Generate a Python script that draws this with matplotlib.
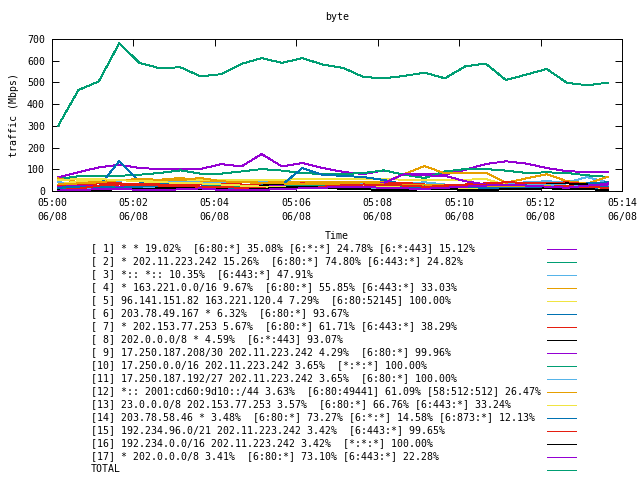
import pandas as pd
import matplotlib
matplotlib.use("Agg")
from matplotlib import pyplot as plt
import matplotlib.dates as mdates
from matplotlib.lines import Line2D

# samples every 30 s, 05:00:09 .. 05:13:39
times = pd.date_range("2024-06-08 05:00:09", periods=28, freq="30s")

# traffic in Mbps
s01 = [63, 86, 109, 121, 106, 101, 101, 101, 124, 113, 170, 113, 129, 106, 88, 78, 95, 75, 80, 75, 98, 124, 137, 126, 106, 91, 88, 88]
s02 = [55, 68, 70, 70, 75, 83, 95, 80, 80, 90, 101, 94, 83, 78, 78, 83, 95, 75, 60, 90, 101, 101, 94, 83, 86, 83, 72, 65]
s03 = [40, 35, 42, 48, 50, 45, 45, 44, 42, 45, 48, 45, 42, 40, 38, 35, 30, 35, 40, 30, 25, 30, 35, 40, 45, 40, 64, 40]
s04 = [58, 40, 45, 50, 55, 52, 60, 48, 45, 42, 50, 45, 40, 40, 42, 40, 40, 78, 115, 81, 84, 84, 38, 58, 77, 45, 35, 65]
s05 = [30, 45, 52, 52, 50, 50, 50, 50, 50, 52, 52, 52, 55, 57, 57, 57, 55, 52, 52, 52, 52, 55, 28, 30, 25, 20, 15, 15]
s06 = [10, 12, 20, 137, 43, 35, 30, 30, 25, 22, 30, 28, 106, 74, 70, 64, 51, 30, 25, 20, 22, 25, 20, 30, 25, 20, 35, 40]
s07 = [25, 30, 35, 35, 32, 30, 28, 30, 32, 30, 25, 30, 35, 30, 28, 30, 35, 38, 30, 28, 30, 35, 40, 38, 35, 40, 30, 25]
s08 = [10, 12, 15, 15, 18, 15, 12, 12, 15, 20, 25, 30, 22, 20, 18, 20, 25, 20, 18, 15, 18, 25, 22, 20, 30, 35, 30, 28]
s09 = [20, 22, 25, 18, 20, 15, 18, 20, 15, 18, 20, 22, 18, 20, 25, 22, 37, 78, 72, 70, 45, 30, 20, 25, 22, 15, 20, 35]
s10 = [15, 18, 20, 15, 12, 15, 18, 20, 22, 18, 15, 20, 25, 22, 20, 18, 15, 20, 22, 25, 20, 18, 22, 25, 20, 18, 25, 30]
s11 = [5, 8, 10, 12, 15, 12, 10, 15, 18, 15, 12, 10, 15, 18, 20, 15, 12, 10, 15, 18, 20, 15, 20, 25, 30, 25, 20, 25]
s12 = [30, 35, 40, 50, 55, 52, 50, 60, 45, 40, 38, 35, 30, 32, 35, 40, 30, 28, 30, 25, 20, 22, 18, 20, 22, 15, 10, 12]
s13 = [50, 55, 55, 50, 45, 40, 38, 35, 30, 25, 20, 18, 15, 20, 25, 28, 20, 15, 10, 12, 15, 10, 8, 10, 12, 15, 10, 8]
s14 = [15, 20, 18, 15, 20, 25, 20, 18, 15, 12, 10, 15, 18, 20, 22, 18, 15, 12, 15, 20, 18, 15, 12, 15, 20, 15, 12, 20]
s15 = [5, 10, 25, 30, 28, 25, 22, 20, 18, 15, 12, 10, 15, 20, 25, 30, 28, 25, 20, 22, 25, 28, 30, 25, 20, 22, 18, 15]
s16 = [3, 5, 5, 8, 10, 12, 15, 10, 8, 5, 10, 15, 20, 15, 10, 8, 5, 5, 8, 10, 5, 5, 8, 10, 12, 10, 8, 5]
s17 = [2, 5, 8, 10, 5, 3, 8, 12, 5, 3, 5, 10, 12, 15, 20, 18, 15, 12, 10, 15, 20, 25, 30, 25, 20, 15, 25, 30]
total = [300, 465, 505, 680, 590, 565, 570, 528, 538, 585, 612, 590, 612, 582, 567, 525, 519, 530, 545, 519, 574, 587, 511, 536, 562, 498, 487, 499]

labels = [
    "[ 1] * * 19.02%  [6:80:*] 35.08% [6:*:*] 24.78% [6:*:443] 15.12%",
    "[ 2] * 202.11.223.242 15.26%  [6:80:*] 74.80% [6:443:*] 24.82%",
    "[ 3] *:: *:: 10.35%  [6:443:*] 47.91%",
    "[ 4] * 163.221.0.0/16 9.67%  [6:80:*] 55.85% [6:443:*] 33.03%",
    "[ 5] 96.141.151.82 163.221.120.4 7.29%  [6:80:52145] 100.00%",
    "[ 6] 203.78.49.167 * 6.32%  [6:80:*] 93.67%",
    "[ 7] * 202.153.77.253 5.67%  [6:80:*] 61.71% [6:443:*] 38.29%",
    "[ 8] 202.0.0.0/8 * 4.59%  [6:*:443] 93.07%",
    "[ 9] 17.250.187.208/30 202.11.223.242 4.29%  [6:80:*] 99.96%",
    "[10] 17.250.0.0/16 202.11.223.242 3.65%  [*:*:*] 100.00%",
    "[11] 17.250.187.192/27 202.11.223.242 3.65%  [6:80:*] 100.00%",
    "[12] *:: 2001:cd60:9d10::/44 3.63%  [6:80:49441] 61.09% [58:512:512] 26.47%",
    "[13] 23.0.0.0/8 202.153.77.253 3.57%  [6:80:*] 66.76% [6:443:*] 33.24%",
    "[14] 203.78.58.46 * 3.48%  [6:80:*] 73.27% [6:*:*] 14.58% [6:873:*] 12.13%",
    "[15] 192.234.96.0/21 202.11.223.242 3.42%  [6:443:*] 99.65%",
    "[16] 192.234.0.0/16 202.11.223.242 3.42%  [*:*:*] 100.00%",
    "[17] * 202.0.0.0/8 3.41%  [6:80:*] 73.10% [6:443:*] 22.28%",
    "TOTAL",
]
series = [s01, s02, s03, s04, s05, s06, s07, s08, s09, s10, s11, s12, s13, s14, s15, s16, s17, total]

# gnuplot default line colours, cycling
palette = ["#9400d3", "#009e73", "#56b4e9", "#e69f00", "#f0e442", "#0072b2", "#e51e10", "#000000"]
colors = [palette[i % len(palette)] for i in range(len(series))]

FS = 7.15
plt.rcParams["font.family"] = ["DejaVu Sans Mono"]
plt.rcParams["font.size"] = FS

W, H = 640, 480
LW = 0.7
fig = plt.figure(figsize=(6.4, 4.8), dpi=100)
ax = fig.add_axes([52 / W, 1 - 191 / H, 570 / W, 152 / H])

for vals, c in zip(series, colors):
    ax.plot(times, vals, color=c, lw=LW, antialiased=False)

ax.set_xlim(pd.Timestamp("2024-06-08 05:00"), pd.Timestamp("2024-06-08 05:14"))
ax.set_ylim(0, 700)
ax.set_yticks(range(0, 701, 100))
ax.xaxis.set_major_locator(mdates.MinuteLocator(byminute=range(0, 60, 2)))
ax.xaxis.set_major_formatter(mdates.DateFormatter("%H:%M\n%m/%d"))
ax.tick_params(direction="in", length=5, width=LW, top=True, right=True, pad=5, labelsize=FS)
for lab in ax.get_xticklabels():
    lab.set_linespacing(1.55)
for sp in ax.spines.values():
    sp.set_linewidth(LW)

ax.set_title("byte", fontsize=FS, pad=14)
ax.set_ylabel("traffic (Mbps)", labelpad=6)
ax.set_xlabel("Time", labelpad=6)

# gnuplot-like key below the plot: text left, sample line right
for i, (lab, c) in enumerate(zip(labels, colors)):
    y = 1 - (248.5 + 13 * i) / H
    fig.text(91 / W, y, lab, va="center", ha="left", fontsize=FS)
    fig.add_artist(Line2D([547 / W, 576 / W], [y, y], color=c, lw=LW, antialiased=False))

fig.savefig("out.png", dpi=100)
